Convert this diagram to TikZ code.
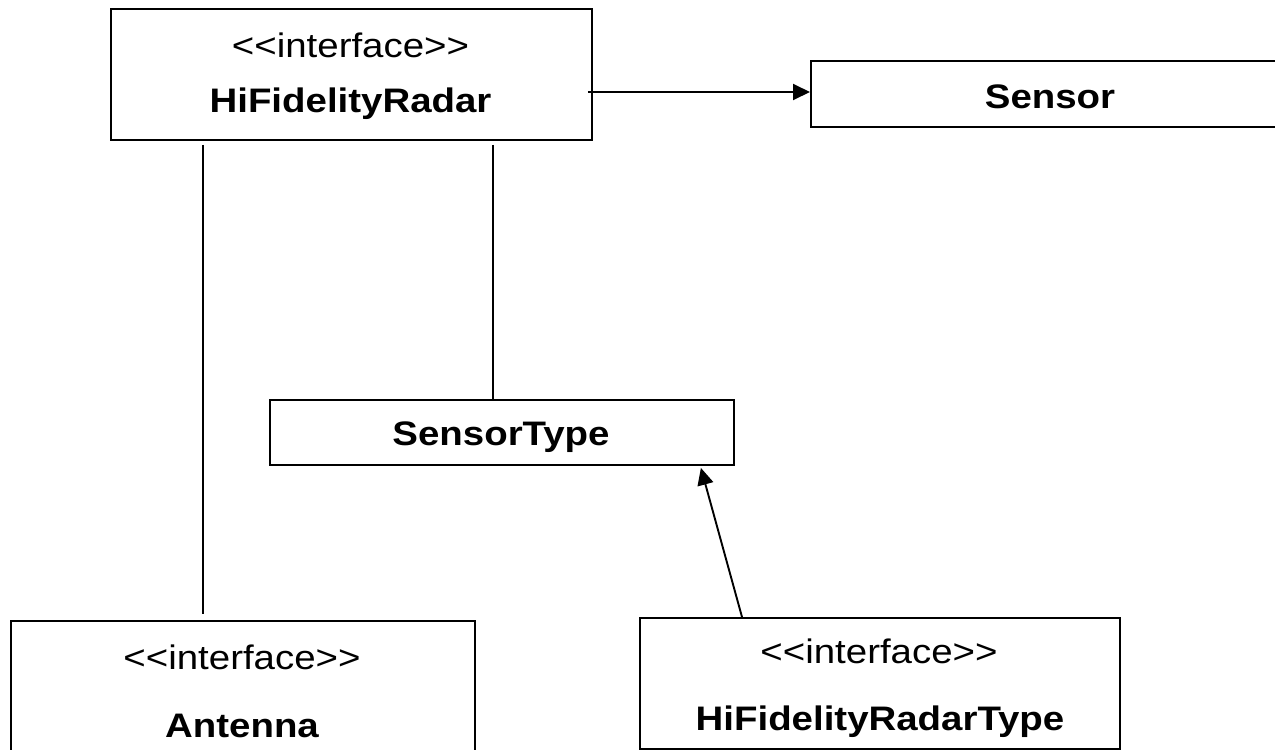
\documentclass[tikz,border=0pt]{standalone}
\usepackage{fontspec}
\setmainfont{Liberation Sans}
\usetikzlibrary{arrows.meta}
\newcommand{\stereo}[1]{{<}{<}#1{>}{>}}
\begin{document}
\begin{tikzpicture}[x=1pt,y=-1pt,
  box/.style={draw,line width=1.9pt,rectangle,anchor=north west,inner sep=0pt},
  txt/.style={anchor=base,inner sep=0pt,xscale=1.13,font=\fontsize{34}{40}\selectfont},
  bold/.style={txt,font=\fontsize{34}{40}\selectfont\bfseries},
  link/.style={line width=1.9pt},
  arr/.style={line width=1.9pt,-{Triangle[length=17pt,width=16pt]}}]
\clip (0,0) rectangle (1275,750);
\fill[white] (0,0) rectangle (1275,750);

% class boxes
\node[box,minimum width=481pt,minimum height=131pt] (radar) at (110,8) {};
\node[box,minimum width=500pt,minimum height=66pt] (sensor) at (810,60) {};
\node[box,minimum width=464pt,minimum height=65pt] (stype) at (269,399) {};
\node[box,minimum width=464pt,minimum height=150pt] (antenna) at (10,620) {};
\node[box,minimum width=480pt,minimum height=131pt] (hfrt) at (639,617) {};

% labels
\node[txt]  (radarS) at (350.5,57)  {\stereo{interface}};
\node[bold] (radarN) at (350.5,112) {HiFidelityRadar};
\node[bold] (sensorN) at (1050,108) {Sensor};
\node[bold] (stypeN) at (501,445) {SensorType};
\node[txt]  (antS) at (242,669) {\stereo{interface}};
\node[bold] (antN) at (242,737) {Antenna};
\node[txt]  (hfrtS) at (879,663) {\stereo{interface}};
\node[bold] (hfrtN) at (880,730) {HiFidelityRadarType};

% connectors
\draw[link] ([shift={(93,4)}]radar.south west) -- ([shift={(193,-6)}]antenna.north west);
\draw[link] ([shift={(383,4)}]radar.south west) -- ([shift={(224,0)}]stype.north west);
\draw[arr] ([shift={(-5,84)}]radar.north east) -- ([shift={(0,32)}]sensor.north west);
\draw[arr] ([shift={(103,0)}]hfrt.north west) -- ([shift={(-34,2)}]stype.south east);
\end{tikzpicture}
\end{document}
